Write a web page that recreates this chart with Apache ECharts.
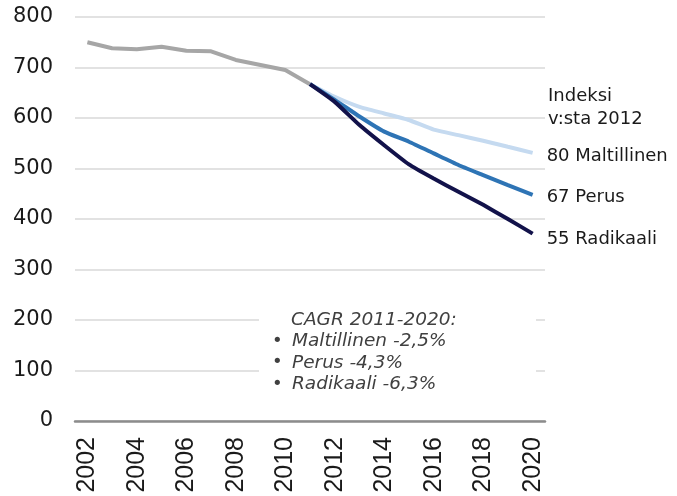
<!DOCTYPE html>
<html lang="fi">
<head>
    <meta charset="UTF-8">
    <title>Skenaariot</title>
    <script src="https://cdn.jsdelivr.net/npm/echarts@6.0.0/dist/echarts.min.js"></script>
    <style>
        html, body { margin: 0; padding: 0; background: #fff; }
    </style>
</head>
<body>
<div id="container" style="width: 677px; height: 496px"></div>

<script type="text/javascript">
    var years = ['2002', '2003', '2004', '2005', '2006', '2007', '2008', '2009', '2010', '2011',
        '2012', '2013', '2014', '2015', '2016', '2017', '2018', '2019', '2020'];
    var historyValues = [750, 738, 736, 741, 733, 732, 715, 705, 695, 667,
        null, null, null, null, null, null, null, null, null];
    var maltillinen = [null, null, null, null, null, null, null, null, null,
        667, 642, 622, 609, 596, 577, 566, 555, 543, 531];
    var perus = [null, null, null, null, null, null, null, null, null,
        667, 636, 603, 573, 553, 530, 507, 487, 467, 448];
    var radikaali = [null, null, null, null, null, null, null, null, null,
        667, 632, 586, 546, 508, 480, 454, 428, 400, 371];
    var indexNames = ['Maltillinen', 'Perus', 'Radikaali'];
    var indexValues = [80, 67, 55];
    var cagrLines = ['Maltillinen -2,5%', 'Perus -4,3%', 'Radikaali -6,3%'];

    var font = 'DejaVu Sans';
    var dom = document.getElementById('container');
    var myChart = echarts.init(dom, null, { renderer: 'canvas' });

    function scenario(name, data, color, idx, offsetY) {
        return {
            name: name,
            type: 'line',
            data: data,
            symbol: 'none',
            smooth: 0.15,
            connectNulls: false,
            lineStyle: { color: color, width: 4 },
            endLabel: {
                show: true,
                distance: 14,
                offset: [0, offsetY],
                fontFamily: font,
                fontSize: 18,
                color: '#1a1a1a',
                formatter: function () { return indexValues[idx] + ' ' + indexNames[idx]; }
            },
            z: 3 + idx
        };
    }

    var bulletText = ['{t|CAGR 2011-2020:}'].concat(cagrLines.map(function (s) {
        return '{b|•}{i|' + s + '}';
    })).join('\n');

    var option = {
        animation: false,
        grid: { left: 75, right: 132, top: 17, bottom: 75 },
        xAxis: {
            type: 'category',
            data: years,
            boundaryGap: true,
            axisLine: { lineStyle: { color: '#8c8c8c', width: 2.5 } },
            axisTick: { show: false },
            axisLabel: {
                interval: 1,
                rotate: 90,
                margin: 16,
                fontFamily: 'Liberation Sans',
                fontSize: 25,
                color: '#1a1a1a'
            },
            splitLine: { show: false }
        },
        yAxis: {
            type: 'value',
            min: 0,
            max: 800,
            interval: 100,
            axisLine: { show: false },
            axisTick: { show: false },
            axisLabel: { margin: 22, fontFamily: font, fontSize: 21, color: '#1a1a1a' },
            splitLine: { lineStyle: { color: '#d9d9d9', width: 1.5 } }
        },
        series: [
            {
                name: 'Historia',
                type: 'line',
                data: historyValues,
                symbol: 'none',
                lineStyle: { color: '#a6a6a6', width: 4 },
                z: 2
            },
            scenario('Maltillinen', maltillinen, '#c5daf0', 0, 3),
            scenario('Perus', perus, '#2e74b5', 1, 3),
            scenario('Radikaali', radikaali, '#12124a', 2, 6)
        ],
        graphic: [
            {
                type: 'text',
                left: 548,
                top: 85,
                style: {
                    text: 'Indeksi\nv:sta 2012',
                    fontFamily: font,
                    fontSize: 18,
                    lineHeight: 23,
                    fill: '#1a1a1a'
                }
            },
            {
                type: 'rect',
                left: 259,
                top: 304,
                shape: { width: 277, height: 92 },
                style: { fill: '#ffffff' },
                z: 10
            },
            {
                type: 'text',
                left: 272,
                top: 309,
                z: 11,
                style: {
                    text: bulletText,
                    fontFamily: font,
                    fontSize: 18,
                    lineHeight: 21.5,
                    fill: '#404040',
                    rich: {
                        t: { fontFamily: font, fontStyle: 'italic', fontSize: 18.5, color: '#404040', lineHeight: 21.5, padding: [0, 0, 0, 19] },
                        i: { fontFamily: font, fontStyle: 'italic', fontSize: 18.5, color: '#404040', lineHeight: 21.5 },
                        b: { fontFamily: font, fontSize: 18, color: '#555555', width: 20, lineHeight: 21.5 }
                    }
                }
            }
        ]
    };

    myChart.setOption(option);
    window.addEventListener('resize', myChart.resize);
</script>
</body>
</html>
